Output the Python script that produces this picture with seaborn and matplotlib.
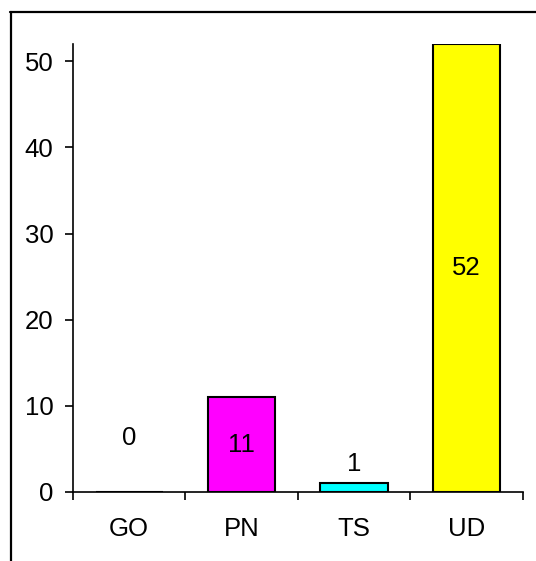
import numpy as np
import pandas as pd
import seaborn as sns
import matplotlib.pyplot as plt
from matplotlib.lines import Line2D

# values
categories = ["GO", "PN", "TS", "UD"]
counts = [0, 11, 1, 52]
bar_colors = ["#0000FF", "#FF00FF", "#00FFFF", "#FFFF00"]

df = pd.DataFrame({"category": categories, "count": counts})

sns.set_theme(style="white")
plt.rcParams['font.family'] = ['Liberation Sans', 'DejaVu Sans']

FS = 18.5

fig = plt.figure(figsize=(5.36, 5.61), dpi=100)
ax = fig.add_axes([0.1362, 0.123, 0.8395, 0.7986])

sns.barplot(data=df, x="category", y="count", hue="category", palette=bar_colors,
            legend=False, width=0.6, edgecolor="black", linewidth=1.5,
            saturation=1, ax=ax)

ax.set_xlim(-0.5, len(categories) - 0.5)
ax.set_ylim(0, 52)
ax.set_yticks([0, 10, 20, 30, 40, 50])
ax.set_xlabel("")
ax.set_ylabel("")

# category boundaries carry the tick marks, labels sit in between
ax.set_xticks(np.arange(-0.5, len(categories)), minor=True)
ax.tick_params(axis="x", which="major", length=0, pad=18, labelsize=FS, colors="black")
ax.tick_params(axis="x", which="minor", length=6, width=1.2, color="black", direction="out")
ax.tick_params(axis="y", length=6, width=1.2, color="black", direction="out",
               pad=8, labelsize=FS, labelcolor="black")
ax.tick_params(bottom=True, left=True, which="both")

for side in ["top", "right"]:
    ax.spines[side].set_visible(False)
for side in ["left", "bottom"]:
    ax.spines[side].set_color("black")
    ax.spines[side].set_linewidth(1.2)

# value labels: inside tall bars, above short ones
for i, v in enumerate(counts):
    if v > 5:
        ax.text(i, v / 2, str(v), ha="center", va="center", fontsize=FS, color="black")
    elif v == 0:
        ax.annotate(str(v), (i, v), xytext=(0, 39), textcoords="offset points",
                    ha="center", va="center", fontsize=FS, color="black")
    else:
        ax.annotate(str(v), (i, v), xytext=(0, 14), textcoords="offset points",
                    ha="center", va="center", fontsize=FS, color="black")

# outer frame (only top and left edges show)
fig.add_artist(Line2D([0.019, 1.0], [0.9786, 0.9786], color="black", linewidth=1.6,
                      transform=fig.transFigure))
fig.add_artist(Line2D([0.0205, 0.0205], [0.0, 0.9786], color="black", linewidth=1.6,
                      transform=fig.transFigure))

fig.savefig("out.png", dpi=100)
